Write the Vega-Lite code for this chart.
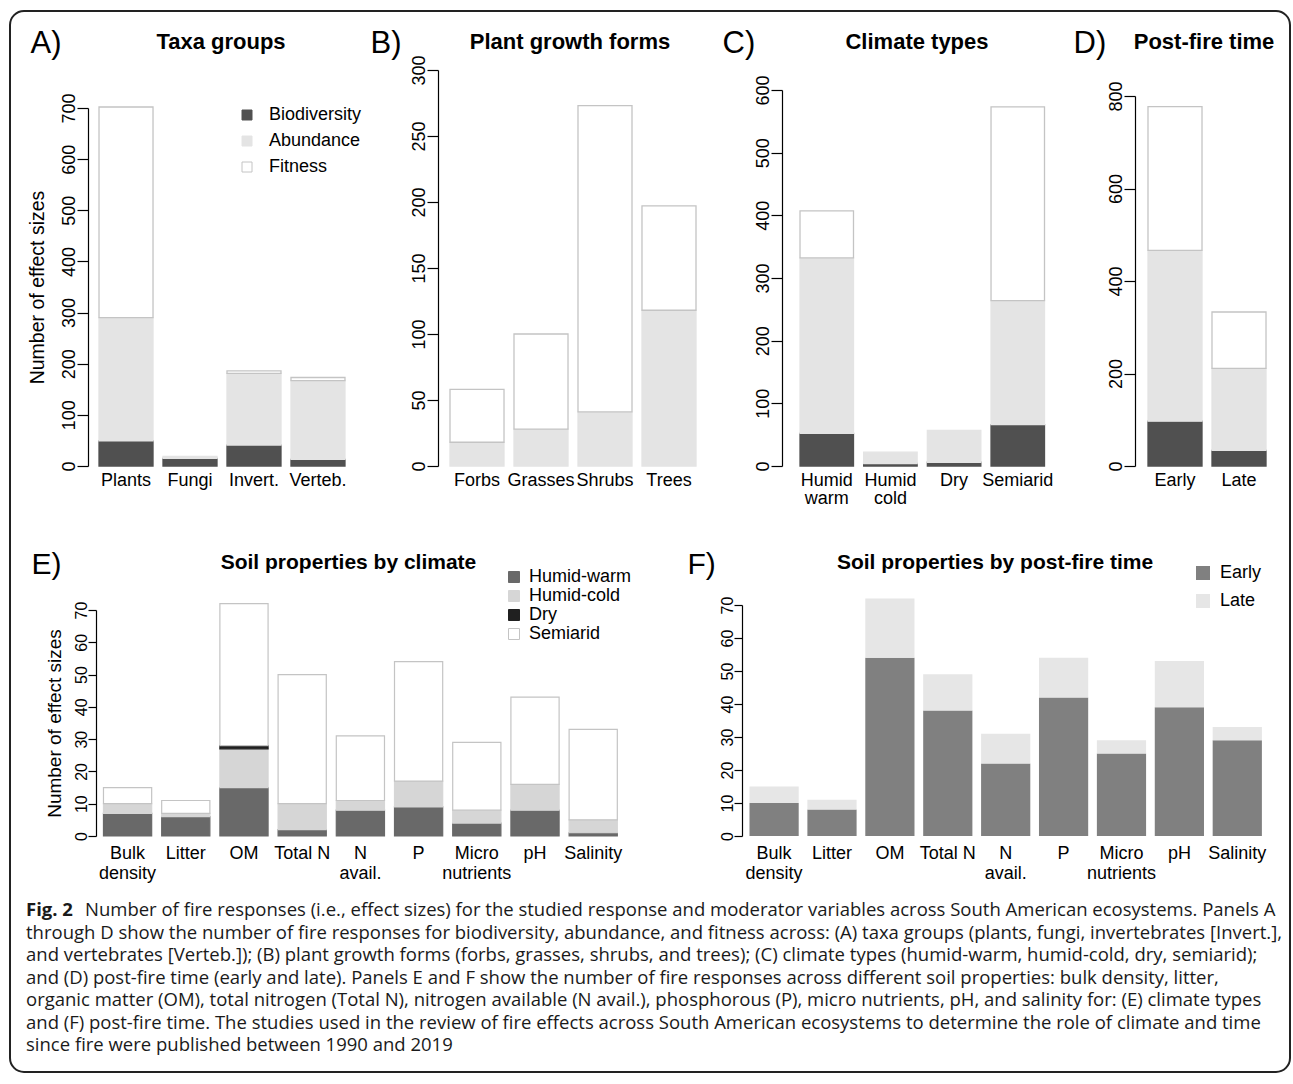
{
  "$schema": "https://vega.github.io/schema/vega-lite/v6.json",
  "padding": {"left": 9, "top": 10, "right": 2, "bottom": 6},
  "background": "white",
  "config": {
    "font": "Liberation Sans",
    "view": {"stroke": null},
    "title": {"font": "Liberation Sans", "fontWeight": "bold", "fontSize": 22, "anchor": "middle", "baseline": "alphabetic", "offset": -27, "color": "#000"},
    "axis": {"labelFont": "Liberation Sans", "titleFont": "Liberation Sans", "labelColor": "#000", "titleColor": "#000", "grid": false, "domainColor": "#000", "tickColor": "#000", "domainWidth": 1.2, "tickWidth": 1.2},
    "axisX": {"domain": false, "ticks": false, "labelAngle": 0, "labelFontSize": 18, "labelPadding": 5, "labelLineHeight": 18, "labelOverlap": false, "labelBaseline": "top", "titleFontSize": 31, "titleFontWeight": "normal", "titleAlign": "left", "titleBaseline": "alphabetic", "titleAngle": 0},
    "axisY": {"labelAngle": -90, "labelAlign": "center", "labelBaseline": "alphabetic", "tickSize": 11, "labelPadding": 3, "labelFontSize": 18, "titleFontSize": 19.5, "titleFontWeight": "normal", "titleBaseline": "alphabetic", "titleAngle": -90, "labelOverlap": false},
    "legend": {"symbolType": "square", "labelFontSize": 18, "labelFont": "Liberation Sans", "labelColor": "#000", "padding": 0, "symbolStrokeWidth": 1}
  },
  "datasets": {
    "taxa": [
      {"g": "Plants", "type": "Biodiversity", "n": 49},
      {"g": "Plants", "type": "Abundance", "n": 241},
      {"g": "Plants", "type": "Fitness", "n": 412},
      {"g": "Fungi", "type": "Biodiversity", "n": 15},
      {"g": "Fungi", "type": "Abundance", "n": 4},
      {"g": "Invert.", "type": "Biodiversity", "n": 41},
      {"g": "Invert.", "type": "Abundance", "n": 140},
      {"g": "Invert.", "type": "Fitness", "n": 5},
      {"g": "Verteb.", "type": "Biodiversity", "n": 13},
      {"g": "Verteb.", "type": "Abundance", "n": 154},
      {"g": "Verteb.", "type": "Fitness", "n": 6}
    ],
    "growth": [
      {"g": "Forbs", "type": "Abundance", "n": 18},
      {"g": "Forbs", "type": "Fitness", "n": 40},
      {"g": "Grasses", "type": "Abundance", "n": 28},
      {"g": "Grasses", "type": "Fitness", "n": 72},
      {"g": "Shrubs", "type": "Abundance", "n": 41},
      {"g": "Shrubs", "type": "Fitness", "n": 232},
      {"g": "Trees", "type": "Abundance", "n": 118},
      {"g": "Trees", "type": "Fitness", "n": 79}
    ],
    "climate": [
      {"g": "Humid warm", "type": "Biodiversity", "n": 52},
      {"g": "Humid warm", "type": "Abundance", "n": 280},
      {"g": "Humid warm", "type": "Fitness", "n": 75},
      {"g": "Humid cold", "type": "Biodiversity", "n": 4},
      {"g": "Humid cold", "type": "Abundance", "n": 18},
      {"g": "Dry", "type": "Biodiversity", "n": 6},
      {"g": "Dry", "type": "Abundance", "n": 51},
      {"g": "Semiarid", "type": "Biodiversity", "n": 66},
      {"g": "Semiarid", "type": "Abundance", "n": 198},
      {"g": "Semiarid", "type": "Fitness", "n": 309}
    ],
    "time": [
      {"g": "Early", "type": "Biodiversity", "n": 97},
      {"g": "Early", "type": "Abundance", "n": 369},
      {"g": "Early", "type": "Fitness", "n": 311},
      {"g": "Late", "type": "Biodiversity", "n": 34},
      {"g": "Late", "type": "Abundance", "n": 177},
      {"g": "Late", "type": "Fitness", "n": 122}
    ],
    "soilclim": [
      {"p": "Bulk density", "c": "Humid-warm", "n": 7}, {"p": "Bulk density", "c": "Humid-cold", "n": 3}, {"p": "Bulk density", "c": "Semiarid", "n": 5},
      {"p": "Litter", "c": "Humid-warm", "n": 6}, {"p": "Litter", "c": "Humid-cold", "n": 1}, {"p": "Litter", "c": "Semiarid", "n": 4},
      {"p": "OM", "c": "Humid-warm", "n": 15}, {"p": "OM", "c": "Humid-cold", "n": 12}, {"p": "OM", "c": "Dry", "n": 1}, {"p": "OM", "c": "Semiarid", "n": 44},
      {"p": "Total N", "c": "Humid-warm", "n": 2}, {"p": "Total N", "c": "Humid-cold", "n": 8}, {"p": "Total N", "c": "Semiarid", "n": 40},
      {"p": "N avail.", "c": "Humid-warm", "n": 8}, {"p": "N avail.", "c": "Humid-cold", "n": 3}, {"p": "N avail.", "c": "Semiarid", "n": 20},
      {"p": "P", "c": "Humid-warm", "n": 9}, {"p": "P", "c": "Humid-cold", "n": 8}, {"p": "P", "c": "Semiarid", "n": 37},
      {"p": "Micro nutrients", "c": "Humid-warm", "n": 4}, {"p": "Micro nutrients", "c": "Humid-cold", "n": 4}, {"p": "Micro nutrients", "c": "Semiarid", "n": 21},
      {"p": "pH", "c": "Humid-warm", "n": 8}, {"p": "pH", "c": "Humid-cold", "n": 8}, {"p": "pH", "c": "Semiarid", "n": 27},
      {"p": "Salinity", "c": "Humid-warm", "n": 1}, {"p": "Salinity", "c": "Humid-cold", "n": 4}, {"p": "Salinity", "c": "Semiarid", "n": 28}
    ],
    "soiltime": [
      {"p": "Bulk density", "t": "Early", "n": 10}, {"p": "Bulk density", "t": "Late", "n": 5},
      {"p": "Litter", "t": "Early", "n": 8}, {"p": "Litter", "t": "Late", "n": 3},
      {"p": "OM", "t": "Early", "n": 54}, {"p": "OM", "t": "Late", "n": 18},
      {"p": "Total N", "t": "Early", "n": 38}, {"p": "Total N", "t": "Late", "n": 11},
      {"p": "N avail.", "t": "Early", "n": 22}, {"p": "N avail.", "t": "Late", "n": 9},
      {"p": "P", "t": "Early", "n": 42}, {"p": "P", "t": "Late", "n": 12},
      {"p": "Micro nutrients", "t": "Early", "n": 25}, {"p": "Micro nutrients", "t": "Late", "n": 4},
      {"p": "pH", "t": "Early", "n": 39}, {"p": "pH", "t": "Late", "n": 14},
      {"p": "Salinity", "t": "Early", "n": 29}, {"p": "Salinity", "t": "Late", "n": 4}
    ],
    "caption": [
      {"line": 1, "text": "Number of fire responses (i.e., effect sizes) for the studied response and moderator variables across South American ecosystems. Panels A"},
      {"line": 2, "text": "through D show the number of fire responses for biodiversity, abundance, and fitness across: (A) taxa groups (plants, fungi, invertebrates [Invert.],"},
      {"line": 3, "text": "and vertebrates [Verteb.]); (B) plant growth forms (forbs, grasses, shrubs, and trees); (C) climate types (humid-warm, humid-cold, dry, semiarid);"},
      {"line": 4, "text": "and (D) post-fire time (early and late). Panels E and F show the number of fire responses across different soil properties: bulk density, litter,"},
      {"line": 5, "text": "organic matter (OM), total nitrogen (Total N), nitrogen available (N avail.), phosphorous (P), micro nutrients, pH, and salinity for: (E) climate types"},
      {"line": 6, "text": "and (F) post-fire time. The studies used in the review of fire effects across South American ecosystems to determine the role of climate and time"},
      {"line": 7, "text": "since fire were published between 1990 and 2019"}
    ]
  },
  "bounds": "flush",
  "spacing": 828.75,
  "resolve": {"scale": {"color": "independent", "stroke": "independent"}, "legend": {"color": "independent", "stroke": "independent"}},
  "vconcat": [
    {
      "bounds": "flush",
      "spacing": 535,
      "resolve": {"scale": {"color": "independent", "stroke": "independent"}, "legend": {"color": "independent", "stroke": "independent"}},
      "vconcat": [
        {
          "bounds": "flush",
          "spacing": 74,
          "resolve": {"scale": {"color": "independent", "stroke": "independent"}, "legend": {"color": "independent", "stroke": "independent"}},
          "hconcat": [
            {
              "width": 354, "height": 396,
              "data": {"name": "taxa"},
              "title": {"text": "Taxa groups", "dx": 34},
              "transform": [{"calculate": "indexof(['Biodiversity','Abundance','Fitness'], datum.type)", "as": "o"}],
              "mark": {"type": "bar", "strokeWidth": 1.3, "clip": false},
              "encoding": {
                "x": {"field": "g", "type": "nominal", "sort": ["Plants", "Fungi", "Invert.", "Verteb."],
                  "scale": {"paddingInner": 0.156, "paddingOuter": 0.844, "align": 0.824},
                  "axis": {"title": "A)", "titleX": 20, "titleY": -414}},
                "y": {"field": "n", "type": "quantitative", "stack": "zero",
                  "scale": {"domain": [0, 700], "range": [396, 38], "nice": false},
                  "axis": {"values": [0, 100, 200, 300, 400, 500, 600, 700], "offset": -78, "title": "Number of effect sizes", "titleX": -45}},
                "color": {"field": "type", "type": "nominal",
                  "scale": {"domain": ["Biodiversity", "Abundance", "Fitness"], "range": ["#505050", "#e4e4e4", "#ffffff"]},
                  "legend": {"title": null, "orient": "none", "legendX": 228, "legendY": 36, "symbolSize": 100, "rowPadding": 8, "labelOffset": 13}},
                "stroke": {"field": "type", "type": "nominal",
                  "scale": {"domain": ["Biodiversity", "Abundance", "Fitness"], "range": ["#505050", "#e4e4e4", "#c4c4c4"]},
                  "legend": {"title": null, "orient": "none", "legendX": 228, "legendY": 36, "symbolSize": 100, "rowPadding": 8, "labelOffset": 13}},
                "order": {"field": "o", "type": "quantitative"}
              }
            },
            {
              "width": 270, "height": 396,
              "data": {"name": "growth"},
              "title": {"text": "Plant growth forms", "dx": -3},
              "transform": [{"calculate": "indexof(['Biodiversity','Abundance','Fitness'], datum.type)", "as": "o"}],
              "mark": {"type": "bar", "strokeWidth": 1.3, "clip": false},
              "encoding": {
                "x": {"field": "g", "type": "nominal", "sort": ["Forbs", "Grasses", "Shrubs", "Trees"],
                  "scale": {"paddingInner": 0.156, "paddingOuter": 0.1875, "align": 0.5},
                  "axis": {"title": "B)", "titleX": -68, "titleY": -414}},
                "y": {"field": "n", "type": "quantitative", "stack": "zero",
                  "scale": {"domain": [0, 300], "range": [396, 0], "nice": false},
                  "axis": {"values": [0, 50, 100, 150, 200, 250, 300], "title": null}},
                "color": {"field": "type", "type": "nominal",
                  "scale": {"domain": ["Biodiversity", "Abundance", "Fitness"], "range": ["#505050", "#e4e4e4", "#ffffff"]}, "legend": null},
                "stroke": {"field": "type", "type": "nominal",
                  "scale": {"domain": ["Biodiversity", "Abundance", "Fitness"], "range": ["#505050", "#e4e4e4", "#c4c4c4"]}, "legend": null},
                "order": {"field": "o", "type": "quantitative"}
              }
            },
            {
              "width": 279, "height": 396,
              "data": {"name": "climate"},
              "title": {"text": "Climate types", "dx": -4.5},
              "transform": [{"calculate": "indexof(['Biodiversity','Abundance','Fitness'], datum.type)", "as": "o"}],
              "mark": {"type": "bar", "strokeWidth": 1.3, "clip": false},
              "encoding": {
                "x": {"field": "g", "type": "nominal", "sort": ["Humid warm", "Humid cold", "Dry", "Semiarid"],
                  "scale": {"paddingInner": 0.16, "paddingOuter": 0.271, "align": 0.522},
                  "axis": {"title": "C)", "titleX": -60, "titleY": -414, "labelExpr": "split(datum.label, ' ')"}},
                "y": {"field": "n", "type": "quantitative", "stack": "zero",
                  "scale": {"domain": [0, 600], "range": [396, 20], "nice": false},
                  "axis": {"values": [0, 100, 200, 300, 400, 500, 600], "title": null}},
                "color": {"field": "type", "type": "nominal",
                  "scale": {"domain": ["Biodiversity", "Abundance", "Fitness"], "range": ["#505050", "#e4e4e4", "#ffffff"]}, "legend": null},
                "stroke": {"field": "type", "type": "nominal",
                  "scale": {"domain": ["Biodiversity", "Abundance", "Fitness"], "range": ["#505050", "#e4e4e4", "#c4c4c4"]}, "legend": null},
                "order": {"field": "o", "type": "quantitative"}
              }
            },
            {
              "width": 144, "height": 396,
              "data": {"name": "time"},
              "title": {"text": "Post-fire time", "dx": -3},
              "transform": [{"calculate": "indexof(['Biodiversity','Abundance','Fitness'], datum.type)", "as": "o"}],
              "mark": {"type": "bar", "strokeWidth": 1.3, "clip": false},
              "encoding": {
                "x": {"field": "g", "type": "nominal", "sort": ["Early", "Late"],
                  "scale": {"paddingInner": 0.156, "paddingOuter": 0.203, "align": 0.5},
                  "axis": {"title": "D)", "titleX": -62, "titleY": -414}},
                "y": {"field": "n", "type": "quantitative", "stack": "zero",
                  "scale": {"domain": [0, 800], "range": [396, 26], "nice": false},
                  "axis": {"values": [0, 200, 400, 600, 800], "title": null}},
                "color": {"field": "type", "type": "nominal",
                  "scale": {"domain": ["Biodiversity", "Abundance", "Fitness"], "range": ["#505050", "#e4e4e4", "#ffffff"]}, "legend": null},
                "stroke": {"field": "type", "type": "nominal",
                  "scale": {"domain": ["Biodiversity", "Abundance", "Fitness"], "range": ["#505050", "#e4e4e4", "#c4c4c4"]}, "legend": null},
                "order": {"field": "o", "type": "quantitative"}
              }
            }
          ]
        },
        {
          "bounds": "flush",
          "spacing": 117,
          "resolve": {"scale": {"color": "independent", "stroke": "independent"}, "legend": {"color": "independent", "stroke": "independent"}},
          "hconcat": [
            {
              "width": 615, "height": 231,
              "data": {"name": "soilclim"},
              "title": {"text": "Soil properties by climate", "dx": 31, "fontSize": 21, "offset": -24},
              "transform": [{"calculate": "indexof(['Humid-warm','Humid-cold','Dry','Semiarid'], datum.c)", "as": "o"}],
              "mark": {"type": "bar", "strokeWidth": 1.2, "clip": false},
              "encoding": {
                "x": {"field": "p", "type": "nominal", "sort": ["Bulk density", "Litter", "OM", "Total N", "N avail.", "P", "Micro nutrients", "pH", "Salinity"],
                  "scale": {"paddingInner": 0.172, "paddingOuter": 0.869, "align": 0.924},
                  "axis": {"title": "E)", "titleX": 21, "titleY": -263, "titleFontSize": 30, "labelFontSize": 18, "labelLineHeight": 20, "labelPadding": 8,
                    "labelExpr": "datum.label == 'Total N' ? datum.label : split(datum.label, ' ')"}},
                "y": {"field": "n", "type": "quantitative", "stack": "zero",
                  "scale": {"domain": [0, 70], "range": [231, 5], "nice": false},
                  "axis": {"values": [0, 10, 20, 30, 40, 50, 60, 70], "offset": -86, "tickSize": 8, "labelPadding": 2, "labelFontSize": 16, "title": "Number of effect sizes", "titleFontSize": 19, "titleX": -36}},
                "color": {"field": "c", "type": "nominal",
                  "scale": {"domain": ["Humid-warm", "Humid-cold", "Dry", "Semiarid"], "range": ["#696969", "#d6d6d6", "#202020", "#ffffff"]},
                  "legend": {"title": null, "orient": "none", "legendX": 495, "legendY": -37, "symbolSize": 121, "rowPadding": 1, "labelOffset": 6}},
                "stroke": {"field": "c", "type": "nominal",
                  "scale": {"domain": ["Humid-warm", "Humid-cold", "Dry", "Semiarid"], "range": ["#696969", "#d6d6d6", "#202020", "#c4c4c4"]},
                  "legend": {"title": null, "orient": "none", "legendX": 495, "legendY": -37, "symbolSize": 121, "rowPadding": 1, "labelOffset": 6}},
                "order": {"field": "o", "type": "quantitative"}
              }
            },
            {
              "width": 528, "height": 231,
              "data": {"name": "soiltime"},
              "title": {"text": "Soil properties by post-fire time", "dx": -11, "fontSize": 21, "offset": -24},
              "transform": [{"calculate": "indexof(['Early','Late'], datum.t)", "as": "o"}],
              "mark": {"type": "bar", "clip": false},
              "encoding": {
                "x": {"field": "p", "type": "nominal", "sort": ["Bulk density", "Litter", "OM", "Total N", "N avail.", "P", "Micro nutrients", "pH", "Salinity"],
                  "scale": {"paddingInner": 0.15, "paddingOuter": 0.1347, "align": 0.48},
                  "axis": {"title": "F)", "titleX": -55, "titleY": -263, "titleFontSize": 30, "labelFontSize": 18, "labelLineHeight": 20, "labelPadding": 8,
                    "labelExpr": "datum.label == 'Total N' ? datum.label : split(datum.label, ' ')"}},
                "y": {"field": "n", "type": "quantitative", "stack": "zero",
                  "scale": {"domain": [0, 70], "range": [231, 0], "nice": false},
                  "axis": {"values": [0, 10, 20, 30, 40, 50, 60, 70], "tickSize": 8, "labelPadding": 2, "labelFontSize": 16, "title": null}},
                "color": {"field": "t", "type": "nominal",
                  "scale": {"domain": ["Early", "Late"], "range": ["#808080", "#e6e6e6"]},
                  "legend": {"title": null, "orient": "none", "legendX": 452, "legendY": -41, "symbolSize": 196, "rowPadding": 10, "labelOffset": 8, "symbolStrokeWidth": 0}},
                "order": {"field": "o", "type": "quantitative"}
              }
            }
          ]
        }
      ]
    },
    {
      "width": 1280, "height": 157.5,
      "data": {"name": "caption"},
      "resolve": {"scale": {"y": "independent"}},
      "layer": [
        {
          "data": {"values": [{}]},
          "mark": {"type": "rect", "filled": false, "stroke": "#222", "strokeWidth": 2, "cornerRadius": 14, "clip": false},
          "encoding": {
            "x": {"datum": 0, "type": "quantitative", "scale": {"domain": [0, 1]}, "axis": null},
            "x2": {"datum": 1},
            "y": {"datum": 0, "type": "quantitative", "scale": {"domain": [0, 1], "range": [-887.75, 173.25]}, "axis": null},
            "y2": {"datum": 1}
          }
        },
        {
          "encoding": {
            "x": {"datum": 0, "type": "quantitative", "scale": {"domain": [0, 1]}, "axis": null},
            "y": {"field": "line", "type": "ordinal", "axis": null}
          },
          "layer": [
            {
              "transform": [{"filter": "datum.line == 1"}],
              "mark": {"type": "text", "align": "left", "baseline": "middle", "font": "Open Sans", "fontSize": 18.5, "fontWeight": "bold", "dx": 16, "color": "#1a1a1a"},
              "encoding": {"text": {"value": "Fig. 2"}}
            },
            {
              "transform": [{"filter": "datum.line == 1"}],
              "mark": {"type": "text", "align": "left", "baseline": "middle", "font": "Open Sans", "fontSize": 18.5, "dx": 75, "color": "#1a1a1a"},
              "encoding": {"text": {"field": "text"}}
            },
            {
              "transform": [{"filter": "datum.line > 1"}],
              "mark": {"type": "text", "align": "left", "baseline": "middle", "font": "Open Sans", "fontSize": 18.5, "dx": 16, "color": "#1a1a1a"},
              "encoding": {"text": {"field": "text"}}
            }
          ]
        }
      ]
    }
  ]
}
